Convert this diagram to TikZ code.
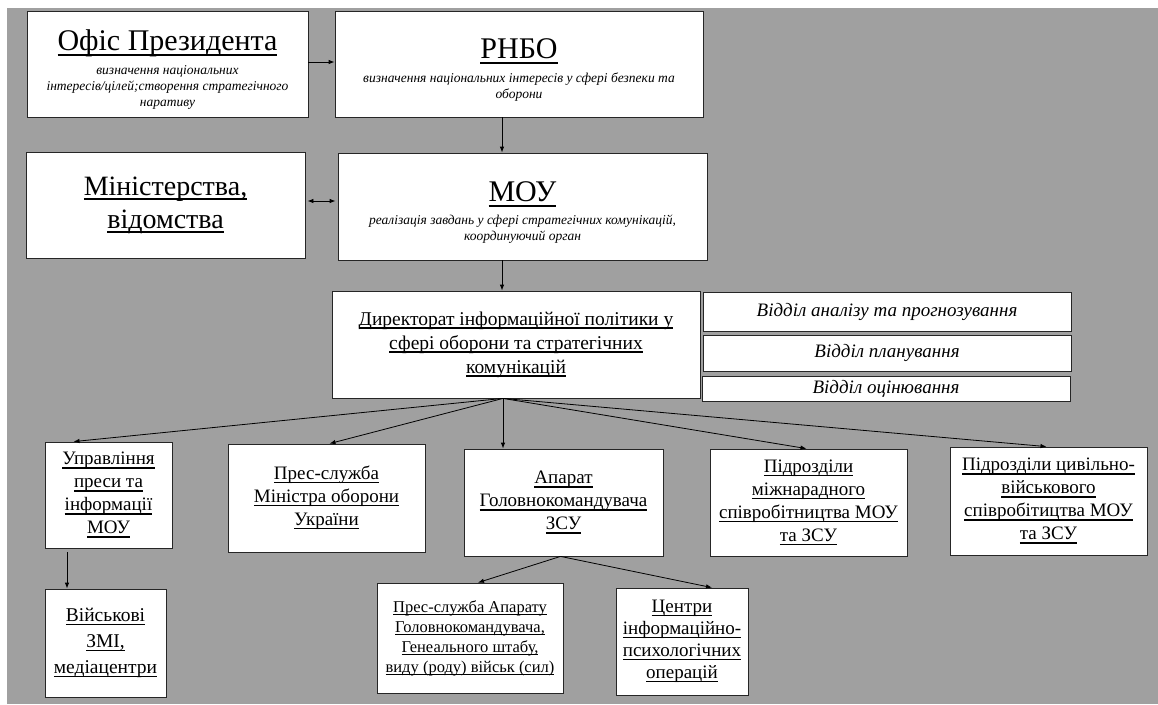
\documentclass[tikz,border=0pt]{standalone}
\usepackage{fontspec}
\setmainfont{Liberation Serif}
\usetikzlibrary{arrows.meta,positioning}
\definecolor{panelgray}{HTML}{A0A0A0}
\newcommand{\undl}[1]{\leavevmode\setbox0\hbox{#1}\rlap{\vrule height -0.11em depth 0.19em width \wd0}\box0}
\newcommand{\bigtitle}{\fontsize{30}{32}\selectfont\upshape\rule{0pt}{1.05em}}
\tikzset{
  orgbox/.style={draw=black!85,fill=white,line width=0.8pt,align=center,inner sep=2pt},
  headbox/.style={orgbox,font=\fontsize{13.5}{16}\selectfont\itshape},
  subbox/.style={orgbox,font=\fontsize{19}{22}\selectfont\itshape},
  unitbox/.style={orgbox,font=\fontsize{19}{23}\selectfont},
  linkarrow/.style={-{Latex[length=6pt,width=4.5pt]},line width=0.8pt}
}

\begin{document}
\begin{tikzpicture}[x=1pt,y=-1pt]
\useasboundingbox (0,0) rectangle (1158,704);
\fill[panelgray] (7,8) rectangle (1158,704);
\coordinate (axis) at (502,0);
\coordinate (leftaxis) at (67,0);
% top level
\node[headbox,minimum width=281pt,minimum height=106pt] (office) at (167.5,64)
  {{\bigtitle\undl{Офіс Президента}}\\[8pt]визначення національних\\інтересів/цілей;створення стратегічного\\наративу};
\node[headbox,minimum width=368pt,minimum height=106pt] (rnbo) at (519,64)
  {{\bigtitle\undl{РНБО}}\\[8pt]визначення національних інтересів у сфері безпеки та\\оборони};
\node[orgbox,minimum width=279pt,minimum height=106pt,font=\fontsize{28}{33}\selectfont] (ministries) at (165.5,205)
  {\undl{Міністерства,}\\\undl{відомства}};
\node[headbox,minimum width=369pt,minimum height=107pt] (mou) at (522.5,206.5)
  {{\bigtitle\undl{МОУ}}\\[7pt]реалізація завдань у сфері стратегічних комунікацій,\\координуючий орган};
% directorate and its departments
\node[unitbox,minimum width=368pt,minimum height=107pt,font=\fontsize{19.5}{24}\selectfont] (directorate) at (516,344.5)
  {\undl{Директорат інформаційної політики у}\\\undl{сфері оборони та стратегічних}\\\undl{комунікацій}};
\node[subbox,minimum width=368pt,minimum height=39pt] (analysis) at (887,311.5) {Відділ аналізу та прогнозування};
\node[subbox,minimum width=368pt,minimum height=36pt] (planning) at (887,353) {Відділ планування};
\node[subbox,minimum width=368pt,minimum height=25pt] (evaluation) at (886,388.5) {Відділ оцінювання};
% units
\node[unitbox,minimum width=127pt,minimum height=106pt] (pressinfo) at (108.5,495)
  {\undl{Управління}\\\undl{преси та}\\\undl{інформації}\\\undl{МОУ}};
\node[unitbox,minimum width=197pt,minimum height=108pt] (minpress) at (326.5,498)
  {\undl{Прес-служба}\\\undl{Міністра оборони}\\\undl{України}};
\node[unitbox,minimum width=199pt,minimum height=107pt] (cinc) at (563.5,502.5)
  {\undl{Апарат}\\\undl{Головнокомандувача}\\\undl{ЗСУ}};
\node[unitbox,minimum width=197pt,minimum height=107pt] (intcoop) at (808.5,502.5)
  {\undl{Підрозділи}\\\undl{міжнарадного}\\\undl{співробітництва МОУ}\\\undl{та ЗСУ}};
\node[unitbox,minimum width=197pt,minimum height=108pt] (cimic) at (1048.5,501)
  {\undl{Підрозділи цивільно-}\\\undl{військового}\\\undl{співробітицтва МОУ}\\\undl{та ЗСУ}};
\node[orgbox,minimum width=121pt,minimum height=108pt,font=\fontsize{19.5}{26}\selectfont] (media) at (105.5,643)
  {\undl{Військові}\\\undl{ЗМІ,}\\\undl{медіацентри}};
\node[orgbox,minimum width=186pt,minimum height=110pt,font=\fontsize{16.5}{20}\selectfont] (cincpress) at (470,638)
  {\undl{Прес-служба Апарату}\\\undl{Головнокомандувача,}\\\undl{Генеального штабу,}\\\undl{виду (роду) військ (сил)}};
\node[orgbox,minimum width=132pt,minimum height=107pt,font=\fontsize{19}{22}\selectfont] (psyops) at (682,641.5)
  {\undl{Центри}\\\undl{інформаційно-}\\\undl{психологічних}\\\undl{операцій}};
% connectors
\draw[linkarrow] (office.east |- 0,62) -- (rnbo.west |- 0,62);
\draw[linkarrow] (rnbo.south -| axis) -- (mou.north -| axis);
\draw[{Latex[length=6pt,width=4.5pt]}-{Latex[length=6pt,width=4.5pt]},line width=0.8pt,shorten <=2pt,shorten >=2pt] (ministries.east |- 0,201) -- (mou.west |- 0,201);
\draw[linkarrow] (mou.south -| axis) -- (directorate.north -| axis);
\draw[linkarrow] ([xshift=1pt]directorate.south -| axis) -- ([xshift=-35pt]pressinfo.north);
\draw[linkarrow] ([xshift=1pt]directorate.south -| axis) -- ([xshift=3pt]minpress.north);
\draw[linkarrow] ([xshift=1pt]directorate.south -| axis) -- ([xshift=1pt]cinc.north -| axis);
\draw[linkarrow] ([xshift=1pt]directorate.south -| axis) -- ([xshift=-2pt]intcoop.north);
\draw[linkarrow] ([xshift=1pt]directorate.south -| axis) -- ([xshift=-2pt]cimic.north);
\draw[linkarrow,shorten <=4pt] (pressinfo.south -| leftaxis) -- (media.north -| leftaxis);
\draw[linkarrow] ([xshift=-3pt]cinc.south) -- ([xshift=8pt]cincpress.north);
\draw[linkarrow] ([xshift=-3pt]cinc.south) -- ([xshift=30pt]psyops.north);
\end{tikzpicture}
\end{document}
